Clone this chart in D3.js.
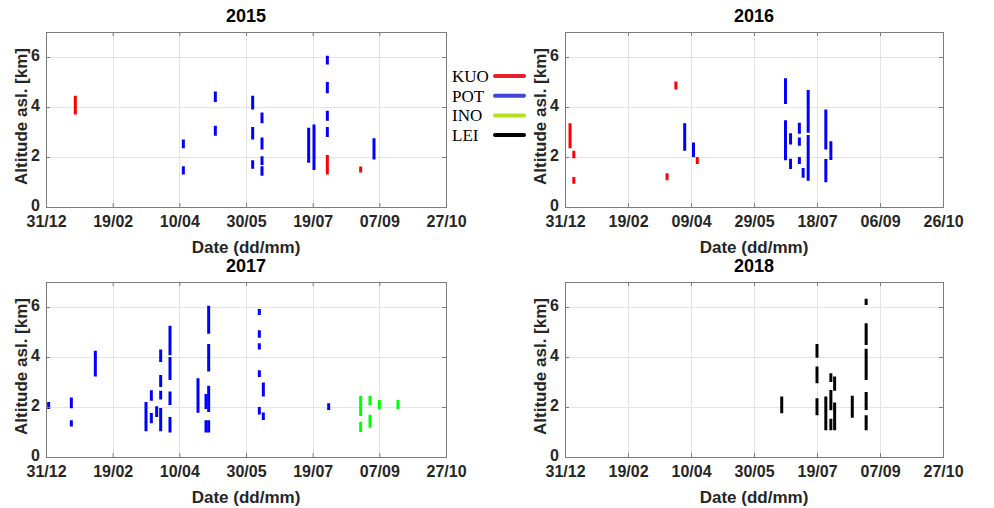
<!DOCTYPE html>
<html>
<head>
<meta charset="utf-8">
<script src="https://cdn.jsdelivr.net/npm/d3@7"></script>
<style>
  body { margin: 0; background: #fff; }
  svg { display: block; }
  text { font-family: "Liberation Sans", Arial, Helvetica, sans-serif; }
</style>
</head>
<body>
<div id="chart"></div>
<script>
// stations and their colours (marks / legend)
const stations = ["KUO", "POT", "INO", "LEI"];
const markColors = ["#ff0000", "#0000ff", "#00ff00", "#000000"];
const legendColors = ["#e8202a", "#3f45d6", "#b2e01e", "#000000"];

const years = [2015, 2016, 2017, 2018];
const yTicks = [0, 2, 4, 6];
const tickStepDays = 50; // 31/12, 19/02, 10/04 ...

// layers: [dd-mm date, bottom km, top km, station]
const layers2015 = [
  ["01-22", 3.70, 4.45, "KUO"],
  ["04-13", 2.35, 2.70, "POT"], ["04-13", 1.30, 1.63, "POT"],
  ["05-07", 4.20, 4.62, "POT"], ["05-07", 2.85, 3.25, "POT"],
  ["06-04", 3.90, 4.45, "POT"], ["06-04", 2.70, 3.20, "POT"], ["06-04", 1.53, 1.87, "POT"],
  ["06-11", 3.35, 3.78, "POT"], ["06-11", 2.30, 2.78, "POT"], ["06-11", 1.68, 2.03, "POT"], ["06-11", 1.25, 1.63, "POT"],
  ["07-16", 1.77, 3.17, "POT"],
  ["07-20", 1.48, 3.30, "POT"],
  ["07-30", 5.70, 6.05, "POT"], ["07-30", 4.55, 5.00, "POT"], ["07-30", 3.45, 3.85, "POT"], ["07-30", 2.80, 3.20, "POT"],
  ["07-30", 1.30, 2.08, "KUO"],
  ["08-24", 1.38, 1.62, "KUO"],
  ["09-03", 1.90, 2.75, "POT"]
];

const layers2016 = [
  ["01-04", 2.35, 3.35, "KUO"],
  ["01-07", 1.95, 2.25, "KUO"], ["01-07", 0.93, 1.20, "KUO"],
  ["03-21", 1.07, 1.35, "KUO"],
  ["03-28", 4.70, 5.02, "KUO"],
  ["04-04", 2.25, 3.35, "POT"],
  ["04-11", 2.00, 2.58, "POT"],
  ["04-14", 1.72, 2.00, "KUO"],
  ["06-23", 4.12, 5.15, "POT"], ["06-23", 1.87, 3.47, "POT"],
  ["06-27", 2.50, 2.95, "POT"], ["06-27", 1.52, 1.93, "POT"],
  ["07-04", 2.93, 3.37, "POT"], ["07-04", 2.45, 2.78, "POT"], ["07-04", 1.72, 2.00, "POT"],
  ["07-07", 1.17, 1.56, "POT"],
  ["07-11", 2.97, 4.68, "POT"], ["07-11", 1.05, 2.88, "POT"],
  ["07-25", 2.30, 3.90, "POT"], ["07-25", 0.99, 1.92, "POT"],
  ["07-29", 1.88, 2.63, "POT"]
];

const layers2017 = [
  ["01-02", 1.92, 2.20, "POT"],
  ["01-19", 1.95, 2.38, "POT"], ["01-19", 1.22, 1.47, "POT"],
  ["02-06", 3.22, 4.25, "POT"],
  ["03-16", 1.03, 2.20, "POT"],
  ["03-20", 2.25, 2.67, "POT"], ["03-20", 1.35, 1.76, "POT"],
  ["03-24", 1.60, 2.03, "POT"],
  ["03-27", 3.80, 4.30, "POT"], ["03-27", 2.80, 3.28, "POT"], ["03-27", 2.30, 2.65, "POT"], ["03-27", 1.03, 1.96, "POT"],
  ["04-03", 4.07, 5.25, "POT"], ["04-03", 3.08, 4.00, "POT"], ["04-03", 2.08, 2.62, "POT"], ["04-03", 0.98, 1.60, "POT"],
  ["04-24", 1.77, 3.15, "POT"],
  ["04-30", 1.92, 2.52, "POT"], ["04-30", 0.98, 1.47, "POT"],
  ["05-02", 4.93, 6.05, "POT"], ["05-02", 3.42, 4.52, "POT"], ["05-02", 1.80, 2.85, "POT"], ["05-02", 0.98, 1.47, "POT"],
  ["06-09", 5.68, 5.92, "POT"], ["06-09", 4.77, 5.07, "POT"], ["06-09", 4.30, 4.55, "POT"], ["06-09", 3.20, 3.47, "POT"], ["06-09", 1.70, 2.00, "POT"],
  ["06-12", 2.42, 2.98, "POT"], ["06-12", 1.48, 1.78, "POT"],
  ["07-31", 1.88, 2.15, "POT"],
  ["08-24", 1.64, 2.45, "INO"], ["08-24", 1.00, 1.40, "INO"],
  ["08-31", 2.08, 2.45, "INO"], ["08-31", 1.17, 1.69, "INO"],
  ["09-07", 1.92, 2.28, "INO"],
  ["09-21", 1.92, 2.28, "INO"]
];

const layers2018 = [
  ["06-21", 1.75, 2.42, "LEI"],
  ["07-19", 3.97, 4.52, "LEI"], ["07-19", 2.95, 3.62, "LEI"], ["07-19", 1.67, 2.35, "LEI"],
  ["07-26", 1.07, 2.42, "LEI"],
  ["07-30", 3.00, 3.35, "LEI"], ["07-30", 1.87, 2.68, "LEI"], ["07-30", 1.07, 1.53, "LEI"],
  ["08-02", 2.65, 3.22, "LEI"], ["08-02", 1.07, 2.18, "LEI"],
  ["08-16", 1.57, 2.45, "LEI"],
  ["08-27", 6.08, 6.33, "LEI"], ["08-27", 4.48, 5.35, "LEI"], ["08-27", 3.08, 4.33, "LEI"], ["08-27", 1.88, 2.60, "LEI"], ["08-27", 1.07, 1.67, "LEI"]
];

const layersByYear = [layers2015, layers2016, layers2017, layers2018];

const width = 994, height = 508;
const parseDate = d3.timeParse("%Y-%m-%d");
const color = d3.scaleOrdinal().domain(stations).range(markColors);

const svg = d3.select("#chart")
    .append("svg")
    .attr("width", width)
    .attr("height", height);

// panel boxes: left/right columns, top/bottom rows
const cols = [[46, 446], [565, 943]];
const rows = [[32, 207], [282, 457]];
const axisColor = "#7d7d7d", textColor = "#262626";

years.forEach((year, i) => {
    const [x0, x1] = cols[i % 2];
    const [y0, y1] = rows[Math.floor(i / 2)];
    const start = new Date(year - 1, 11, 31);
    const tickDates = d3.range(0, 301, tickStepDays).map(d => d3.timeDay.offset(start, d));

    const x = d3.scaleTime()
        .domain([start, tickDates[tickDates.length - 1]])
        .range([x0, x1]);
    const y = d3.scaleLinear().domain([0, 7]).range([y1, y0]);

    const g = svg.append("g").attr("class", "panel");

    // grid
    g.append("g").selectAll("line.vg")
        .data(tickDates.slice(1, -1))
        .join("line")
        .attr("x1", d => Math.round(x(d)) + 0.5).attr("x2", d => Math.round(x(d)) + 0.5)
        .attr("y1", y0).attr("y2", y1)
        .attr("stroke", "#e4e4e4");
    g.append("g").selectAll("line.hg")
        .data(yTicks.slice(1))
        .join("line")
        .attr("x1", x0).attr("x2", x1)
        .attr("y1", d => Math.round(y(d)) + 0.5).attr("y2", d => Math.round(y(d)) + 0.5)
        .attr("stroke", "#e4e4e4");

    // layers
    const parsed = layersByYear[i].map(d => ({
        date: parseDate(year + "-" + d[0]), lo: d[1], hi: d[2], st: d[3]
    }));
    g.append("g").selectAll("line")
        .data(parsed)
        .join("line")
        .attr("x1", d => x(d.date)).attr("x2", d => x(d.date))
        .attr("y1", d => y(d.lo)).attr("y2", d => y(d.hi))
        .attr("stroke", d => color(d.st))
        .attr("stroke-width", 3);

    // axes, ticks pointing inward
    const xAxis = g.append("g")
        .attr("transform", `translate(0,${y1})`)
        .call(d3.axisBottom(x).tickValues(tickDates).tickFormat(d3.timeFormat("%d/%m"))
            .tickSizeInner(-4).tickSizeOuter(0).tickPadding(9));
    const xTop = g.append("g")
        .attr("transform", `translate(0,${y0})`)
        .call(d3.axisTop(x).tickValues(tickDates).tickFormat("").tickSizeInner(-4).tickSizeOuter(0));
    const yAxis = g.append("g")
        .attr("transform", `translate(${x0},0)`)
        .call(d3.axisLeft(y).tickValues(yTicks).tickFormat(d3.format("d"))
            .tickSizeInner(-4).tickSizeOuter(0).tickPadding(6));
    const yRight = g.append("g")
        .attr("transform", `translate(${x1},0)`)
        .call(d3.axisRight(y).tickValues(yTicks).tickFormat("").tickSizeInner(-4).tickSizeOuter(0));

    [xAxis, xTop, yAxis, yRight].forEach(a => {
        a.select(".domain").remove();
        a.selectAll(".tick line").attr("stroke", axisColor);
        a.selectAll(".tick text")
            .attr("fill", textColor)
            .attr("font-size", 16)
            .attr("font-weight", "bold")
            .style("font-family", "'Liberation Sans', Arial, sans-serif");
    });
    yAxis.selectAll(".tick text").attr("dy", "0.24em");

    // box
    g.append("rect")
        .attr("x", x0 + 0.5).attr("y", y0 + 0.5)
        .attr("width", x1 - x0).attr("height", y1 - y0)
        .attr("fill", "none")
        .attr("stroke", axisColor);

    // title and labels
    g.append("text")
        .attr("x", (x0 + x1) / 2).attr("y", y0 - 10)
        .attr("text-anchor", "middle")
        .attr("font-size", 18).attr("font-weight", "bold")
        .attr("fill", "#000")
        .text(year);
    g.append("text")
        .attr("x", (x0 + x1) / 2).attr("y", y1 + 46)
        .attr("text-anchor", "middle")
        .attr("font-size", 17).attr("font-weight", "bold")
        .attr("fill", textColor)
        .text("Date (dd/mm)");
    g.append("text")
        .attr("transform", `translate(${x0 - 19},${(y0 + y1) / 2 - 3}) rotate(-90)`)
        .attr("text-anchor", "middle")
        .attr("font-size", 17).attr("font-weight", "bold")
        .attr("fill", textColor)
        .text("Altitude asl. [km]");
});

// legend between the top panels
const legend = svg.append("g")
    .attr("transform", "translate(452,76)");
const item = legend.selectAll("g")
    .data(stations)
    .join("g")
    .attr("transform", (d, i) => `translate(0,${i * 19.7})`);
item.append("text")
    .attr("y", 6)
    .attr("font-size", 17)
    .style("font-family", "'Liberation Serif', 'Times New Roman', serif")
    .attr("fill", "#000")
    .text(d => d);
item.append("line")
    .attr("x1", 43).attr("x2", 72)
    .attr("stroke", (d, i) => legendColors[i])
    .attr("stroke-width", 4)
    .attr("stroke-linecap", "round");
</script>
</body>
</html>
